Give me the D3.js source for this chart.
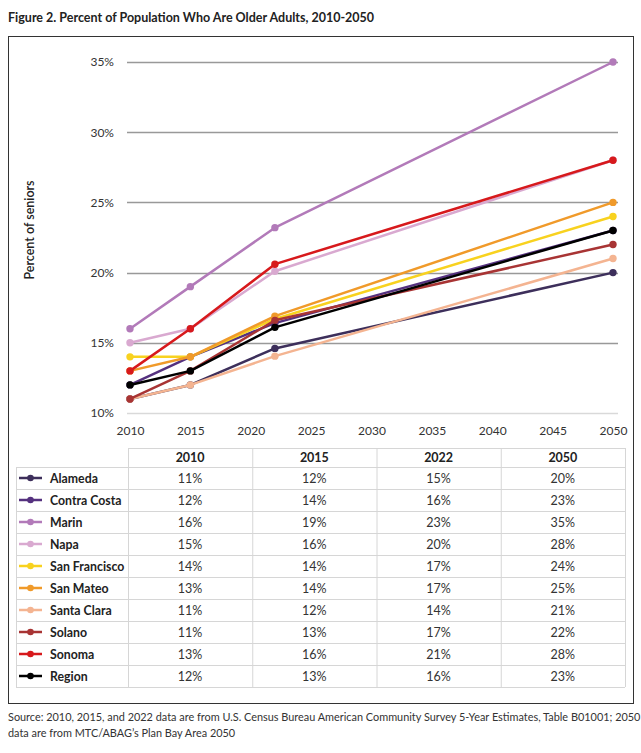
<!DOCTYPE html>
<html>
<head>
<meta charset="utf-8">
<script src="https://cdn.jsdelivr.net/npm/d3@7"></script>
<style>
  html, body { margin: 0; padding: 0; background: #fff; }
  svg { display: block; }
  text { font-family: Lato, "Open Sans", sans-serif; }
</style>
</head>
<body>
<svg id="chart" width="641" height="753"></svg>
<script>
// ---- data ----
const years = [2010, 2015, 2022, 2050];
const counties = ["Alameda", "Contra Costa", "Marin", "Napa", "San Francisco", "San Mateo", "Santa Clara", "Solano", "Sonoma", "Region"];
const alameda     = [11, 12, 14.6, 20];
const contraCosta = [12, 14, 16.4, 23];
const marin       = [16, 19, 23.2, 35];
const napa        = [15, 16, 20.1, 28];
const sanFrancisco= [14, 14, 16.7, 24];
const sanMateo    = [13, 14, 16.9, 25];
const santaClara  = [11, 12, 14.05, 21];
const solano      = [11, 13, 16.6, 22];
const sonoma      = [13, 16, 20.6, 28];
const region      = [12, 13, 16.1, 23];
const colors = ["#3d2f5b", "#55317f", "#b27ab9", "#d9a9d0", "#f8d21f", "#f09a2a", "#f4b491", "#a83434", "#d7191c", "#000000"];
const xTicks = [2010, 2015, 2020, 2025, 2030, 2035, 2040, 2045, 2050];
const yTicks = [10, 15, 20, 25, 30, 35];
const titleText = "Figure 2. Percent of Population Who Are Older Adults, 2010-2050";
const yTitle = "Percent of seniors";
const sourceLines = [
  "Source: 2010, 2015, and 2022 data are from U.S. Census Bureau American Community Survey 5-Year Estimates, Table B01001; 2050",
  "data are from MTC/ABAG\u2019s Plan Bay Area 2050"
];

const seriesValues = [alameda, contraCosta, marin, napa, sanFrancisco, sanMateo, santaClara, solano, sonoma, region];
const series = counties.map((name, i) => ({
  name, color: colors[i],
  values: years.map((y, j) => ({ year: y, v: seriesValues[i][j] }))
}));

const svg = d3.select("#chart");

// title
svg.append("text").attr("x", 8).attr("y", 22)
  .attr("font-size", 12.5).attr("font-weight", 700).attr("fill", "#222")
  .text(titleText);

// frame
svg.append("rect").attr("x", 8.5).attr("y", 36.5).attr("width", 625).attr("height", 667)
  .attr("fill", "none").attr("stroke", "#333").attr("stroke-width", 1);

// scales
const x = d3.scaleLinear().domain([2010, 2050]).range([130, 613]);
const y = d3.scaleLinear().domain([10, 35]).range([413, 62]);

// gridlines
const grid = svg.append("g");
grid.selectAll("line").data(yTicks).join("line")
  .attr("x1", 127).attr("x2", 618)
  .attr("y1", d => Math.round(y(d)) + 0.5).attr("y2", d => Math.round(y(d)) + 0.5)
  .attr("stroke", d => d === 10 ? "#d9d9d9" : "#999")
  .attr("stroke-width", 1.3);

// y axis labels
const yAxis = d3.axisLeft(y).tickValues(yTicks).tickSize(0).tickPadding(0).tickFormat(d => d + "%");
const gy = svg.append("g").attr("transform", "translate(114,0)").call(yAxis);
gy.select(".domain").remove();
gy.selectAll("text").attr("font-size", 12).attr("fill", "#333").attr("font-family", "Lato, sans-serif");

// x axis labels
const xAxis = d3.axisBottom(x).tickValues(xTicks).tickSize(0).tickPadding(0).tickFormat(d3.format("d"));
const gx = svg.append("g").attr("transform", "translate(0,426)").call(xAxis);
gx.select(".domain").remove();
gx.selectAll("text").attr("font-size", 12).attr("fill", "#333").attr("font-family", "Lato, sans-serif");

// y title
svg.append("text")
  .attr("transform", "translate(34,230) rotate(-90)")
  .attr("text-anchor", "middle").attr("font-size", 12.5).attr("font-weight", 600).attr("fill", "#222")
  .text(yTitle);

// lines
const line = d3.line().x(d => x(d.year)).y(d => y(d.v));
const gs = svg.append("g").selectAll("g").data(series).join("g");
gs.append("path").attr("d", d => line(d.values))
  .attr("fill", "none").attr("stroke", d => d.color).attr("stroke-width", 2.5)
  .attr("stroke-linejoin", "round");
gs.selectAll("circle").data(d => d.values.map(v => ({ ...v, color: d.color }))).join("circle")
  .attr("cx", d => x(d.year)).attr("cy", d => y(d.v)).attr("r", 3.7)
  .attr("fill", d => d.color);

// table
const tLeft = 16, tRight = 625, c0 = 128;
const headTop = 448, headH = 19, rowH = 22;
const colW = (tRight - c0) / years.length;
const tbl = svg.append("g");
const bc = "#d6d6d6";
const rowsTop = headTop + headH;
const tBottom = rowsTop + rowH * counties.length;

// horizontal lines
tbl.append("line").attr("x1", c0).attr("x2", tRight).attr("y1", headTop + 0.5).attr("y2", headTop + 0.5).attr("stroke", bc);
tbl.selectAll(".hl").data(d3.range(counties.length + 1)).join("line").attr("class", "hl")
  .attr("x1", tLeft).attr("x2", tRight)
  .attr("y1", i => rowsTop + i * rowH + 0.5).attr("y2", i => rowsTop + i * rowH + 0.5)
  .attr("stroke", bc);
// vertical lines
tbl.append("line").attr("x1", tLeft + 0.5).attr("x2", tLeft + 0.5).attr("y1", rowsTop).attr("y2", tBottom).attr("stroke", bc);
tbl.selectAll(".vl").data(d3.range(years.length + 1)).join("line").attr("class", "vl")
  .attr("x1", i => c0 + i * colW + 0.5).attr("x2", i => c0 + i * colW + 0.5)
  .attr("y1", headTop).attr("y2", tBottom).attr("stroke", bc);

// header
tbl.selectAll(".hd").data(years).join("text").attr("class", "hd")
  .attr("x", (d, i) => c0 + (i + 0.5) * colW).attr("y", headTop + headH / 2 + 4.5)
  .attr("text-anchor", "middle").attr("font-size", 12.5).attr("font-weight", 700).attr("fill", "#222")
  .text(d => d);

// rows
const rows = tbl.selectAll(".row").data(series).join("g").attr("class", "row")
  .attr("transform", (d, i) => `translate(0,${rowsTop + i * rowH + rowH / 2})`);
rows.append("line").attr("x1", 19).attr("x2", 42).attr("y1", 0).attr("y2", 0)
  .attr("stroke", d => d.color).attr("stroke-width", 2.5);
rows.append("circle").attr("cx", 30.5).attr("cy", 0).attr("r", 3.3).attr("fill", d => d.color);
rows.append("text").attr("x", 50).attr("y", 4.5)
  .attr("font-size", 12.3).attr("font-weight", 700).attr("fill", "#222").text(d => d.name);
rows.selectAll(".val").data(d => d.values).join("text").attr("class", "val")
  .attr("x", (d, i) => c0 + (i + 0.5) * colW).attr("y", 4.5)
  .attr("text-anchor", "middle").attr("font-size", 12.5).attr("fill", "#333")
  .text(d => Math.round(d.v) + "%");

// source
svg.append("g").selectAll("text").data(sourceLines).join("text")
  .attr("x", 8).attr("y", (d, i) => 721 + i * 16)
  .attr("font-size", 10.9).attr("fill", "#333").text(d => d);
</script>
</body>
</html>
